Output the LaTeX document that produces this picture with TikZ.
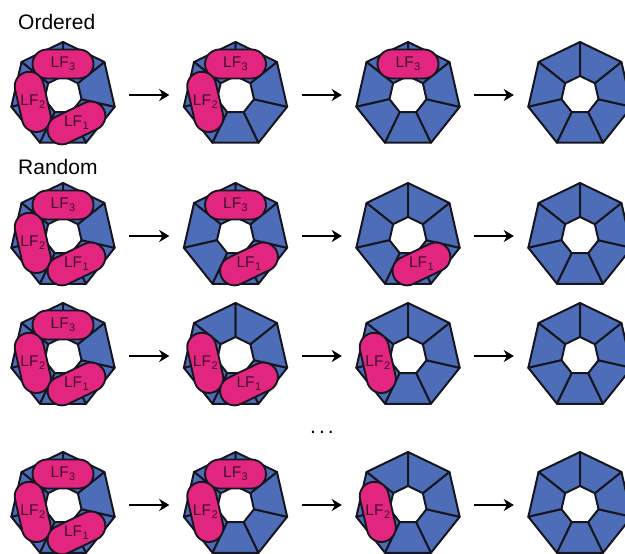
\documentclass[tikz,border=0pt]{standalone}
\usepackage{fontspec}
\setmainfont{Liberation Sans}
\usetikzlibrary{arrows.meta,calc}
\definecolor{ringblue}{RGB}{78,109,184}
\definecolor{lfpink}{RGB}{226,38,128}
\definecolor{edgecol}{RGB}{22,22,32}
\definecolor{lftext}{RGB}{60,15,45}
\tikzset{
  seg/.style={fill=ringblue, draw=edgecol, line width=2pt, line join=round},
  lfbody/.style={shape=rectangle, draw=edgecol, fill=lfpink, line width=1.9pt, rounded corners=14.5pt, minimum width=61pt, minimum height=29pt, inner sep=0pt},
  lflabel/.style={text=lftext, font=\fontsize{15.5}{16}\selectfont, inner sep=0pt},
  ringbox/.style={circle, minimum size=132pt, inner sep=0pt},
  arr/.style={-{Stealth[length=10pt,width=12pt,inset=3pt]}, line width=2.1pt, draw=black},
  title/.style={font=\fontsize{21}{24}\selectfont, anchor=base west, inner sep=0pt}
}
\newcommand\heptring[3]{%
  \node[ringbox] (#1) at (#2,#3) {};
  \begin{scope}[shift={(#2,#3)}]
    \foreach \k in {0,...,6}{
      \pgfmathsetmacro\aa{90+\k*360/7}
      \pgfmathsetmacro\bb{90+(\k+1)*360/7}
      \path[seg] (\aa:53) -- (\bb:53) -- (\bb:19) -- (\aa:19) -- cycle;
    }
  \end{scope}
}
\newcommand\lfbind[5]{%
  \node[lfbody, rotate=#4-90] (#1) at ($(#2,#3)+(#4:31)$) {};
  \node[lflabel] (#1t) at (#1.center) {LF\kern0.5pt\raisebox{-3pt}{\fontsize{11}{12}\selectfont #5}};
}
\begin{document}
\begin{tikzpicture}[x=1pt,y=1pt]
\useasboundingbox (0,0) rectangle (625,-554);
\def\angA{90}
\def\angB{192.857}
\def\angC{295.714}
% titles
\node[title] (tOrd) at (18,-30) {Ordered};
\node[title] (tRan) at (18,-174) {Random};
\node[font=\fontsize{21}{24}\selectfont, anchor=base, inner sep=0pt] (dots) at (322,-433) {.\kern3pt.\kern3pt.};
% row 1
\heptring{r11}{63}{-95}
\lfbind{a11c}{63}{-95}{\angA}{3}
\lfbind{a11b}{63}{-95}{\angB}{2}
\lfbind{a11a}{63}{-95}{\angC}{1}
\heptring{r12}{235.5}{-95}
\lfbind{a12c}{235.5}{-95}{\angA}{3}
\lfbind{a12b}{235.5}{-95}{\angB}{2}
\heptring{r13}{408}{-95}
\lfbind{a13c}{408}{-95}{\angA}{3}
\heptring{r14}{580}{-95}
% row 2
\heptring{r21}{63}{-236}
\lfbind{a21c}{63}{-236}{\angA}{3}
\lfbind{a21b}{63}{-236}{\angB}{2}
\lfbind{a21a}{63}{-236}{\angC}{1}
\heptring{r22}{235.5}{-236}
\lfbind{a22c}{235.5}{-236}{\angA}{3}
\lfbind{a22a}{235.5}{-236}{\angC}{1}
\heptring{r23}{408}{-236}
\lfbind{a23a}{408}{-236}{\angC}{1}
\heptring{r24}{580}{-236}
% row 3
\heptring{r31}{63}{-356}
\lfbind{a31c}{63}{-356}{\angA}{3}
\lfbind{a31b}{63}{-356}{\angB}{2}
\lfbind{a31a}{63}{-356}{\angC}{1}
\heptring{r32}{235.5}{-356}
\lfbind{a32b}{235.5}{-356}{\angB}{2}
\lfbind{a32a}{235.5}{-356}{\angC}{1}
\heptring{r33}{408}{-356}
\lfbind{a33b}{408}{-356}{\angB}{2}
\heptring{r34}{580}{-356}
% row 4
\heptring{r41}{63}{-505}
\lfbind{a41c}{63}{-505}{\angA}{3}
\lfbind{a41b}{63}{-505}{\angB}{2}
\lfbind{a41a}{63}{-505}{\angC}{1}
\heptring{r42}{235.5}{-505}
\lfbind{a42c}{235.5}{-505}{\angA}{3}
\lfbind{a42b}{235.5}{-505}{\angB}{2}
\heptring{r43}{408}{-505}
\lfbind{a43b}{408}{-505}{\angB}{2}
\heptring{r44}{580}{-505}
% arrows
\foreach \r in {1,2,3,4}{
  \draw[arr] (r\r1) -- (r\r2);
  \draw[arr] (r\r2) -- (r\r3);
  \draw[arr] (r\r3) -- (r\r4);
}
\end{tikzpicture}
\end{document}
